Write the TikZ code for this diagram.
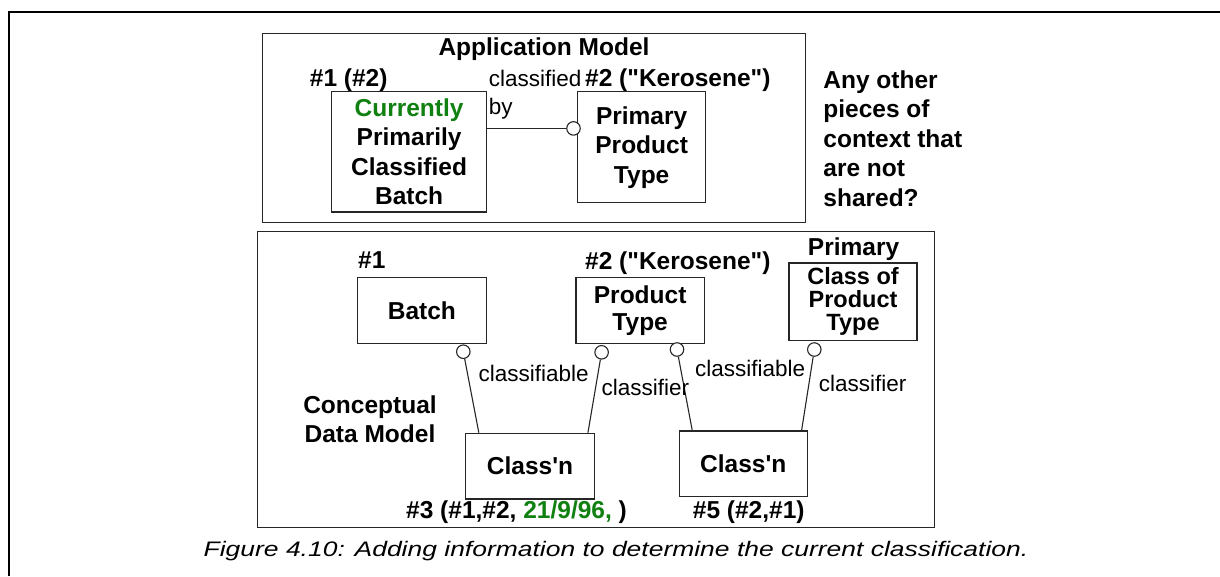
\documentclass[tikz,border=0pt]{standalone}
\usepackage{fontspec}
\setmainfont{Liberation Sans}
% plain family without TeX ligature mapping, so ' and " stay straight
\newfontfamily\arialish{Liberation Sans}
\newfontfamily\capfont[FakeStretch=1.26]{Liberation Sans}
\usetikzlibrary{calc}
\definecolor{cgreen}{RGB}{16,128,16}
\tikzset{
  bold/.style={font=\arialish\fontsize{24.5}{29.4}\selectfont\bfseries, inner sep=0pt},
  plain/.style={font=\arialish\fontsize{22.5}{28}\selectfont, inner sep=0pt},
  modelbox/.style={draw=black!85, line width=1.3pt, inner sep=0pt},
  entity/.style={draw=black!85, line width=1.3pt, fill=white, inner sep=0pt, align=center,
                 font=\arialish\fontsize{24.5}{29.4}\selectfont\bfseries},
  ring/.style={circle, draw=black!85, fill=white, line width=1.1pt, minimum size=13.5pt, inner sep=0pt},
  link/.style={draw=black!85, line width=1.1pt},
}
\begin{document}
\begin{tikzpicture}[x=1pt,y=-1pt]
\useasboundingbox (0,0) rectangle (1220,576);

% page frame
\draw[line width=2pt] (8.7,576) -- (8.7,12) -- (1220,12);

% ---------- application model ----------
\node[modelbox, minimum width=543pt, minimum height=189pt] (app) at (534.2,127.8) {};
\node[bold, anchor=base] (apptitle) at (544,55.8) {Application Model};
\node[bold, anchor=base west] (u1) at (309.7,86.3) {\#1 (\#2)};
\node[plain, anchor=north west, align=left] (ucb) at (488.6,69.9) {classified\\by};
\node[bold, anchor=base west] (u2) at (585,86.3) {\#2 ("Kerosene")};

\node[entity, minimum width=154.8pt, minimum height=120.3pt] (cpcb) at (409.1,151.85)
  {\textcolor{cgreen}{Currently}\\Primarily\\Classified\\Batch};
\node[entity, minimum width=128.3pt, minimum height=111pt] (ppt) at (641.65,147.3)
  {Primary\\Product\\Type};
\node[ring] (r0) at (573.5,128.4) {};
\draw[link] (r0.west -| cpcb.east) -- (r0);

\node[bold, anchor=north west, align=left] (note) at (823.2,70.6)
  {Any other\\pieces of\\context that\\are not\\shared?};

% ---------- conceptual data model ----------
\node[modelbox, minimum width=676.7pt, minimum height=296.3pt] (cdm) at (595.85,379.55) {};
\node[bold, align=center] (cdmlabel) at (370,419.3) {Conceptual\\Data Model};

\node[bold, anchor=base west] (t1) at (358,268) {\#1};
\node[bold, anchor=base west] (t2) at (585,269.3) {\#2 ("Kerosene")};
\node[bold, anchor=base] (t3) at (853.6,255) {Primary};

\node[entity, minimum width=129.2pt, minimum height=66.1pt] (batch) at (421.9,310.35) {Batch};
\node[entity, minimum width=128.3pt, minimum height=66.1pt,
      font=\arialish\fontsize{24.5}{27}\selectfont\bfseries] (ptype) at (640.15,310.45) {Product\\Type};
\node[entity, minimum width=128pt, minimum height=77.5pt,
      font=\arialish\fontsize{23.5}{23}\selectfont\bfseries] (cpt) at (853,301.75) {Class of\\Product\\Type};
\node[entity, minimum width=128.6pt, minimum height=65.7pt] (cn1) at (530,466.15) {Class'n};
\node[entity, minimum width=128pt, minimum height=65.7pt] (cn2) at (743.3,463.85) {Class'n};

\node[ring] (r1) at (463.3,351.7) {};
\node[ring] (r2) at (601.6,352.3) {};
\node[ring] (r3) at (677,349.5) {};
\node[ring] (r4) at (814.3,349.5) {};
\draw[link] (r1) -- ($(cn1.north west)!0.106!(cn1.north east)$);
\draw[link] (r2) -- ($(cn1.north west)!0.946!(cn1.north east)$);
\draw[link] (r3) -- ($(cn2.north west)!0.105!(cn2.north east)$);
\draw[link] (r4) -- ($(cn2.north west)!0.951!(cn2.north east)$);

\node[plain, anchor=base west] (lb1) at (478.5,381) {classifiable};
\node[plain, anchor=base west] (lb2) at (601.5,395) {classifier};
\node[plain, anchor=base west] (lb3) at (695,376.5) {classifiable};
\node[plain, anchor=base west] (lb4) at (818.6,391.2) {classifier};

\node[bold, anchor=base west] (t4) at (406,518.3) {\#3 (\#1,\#2, \textcolor{cgreen}{21/9/96,} )};
\node[bold, anchor=base west] (t5) at (692.7,518.3) {\#5 (\#2,\#1)};

% caption
\node[anchor=base, inner sep=0pt, font=\capfont\itshape\fontsize{21}{25}\selectfont] (cap) at (616,556.7)
  {Figure 4.10: Adding information to determine the current classification.};
\end{tikzpicture}
\end{document}
